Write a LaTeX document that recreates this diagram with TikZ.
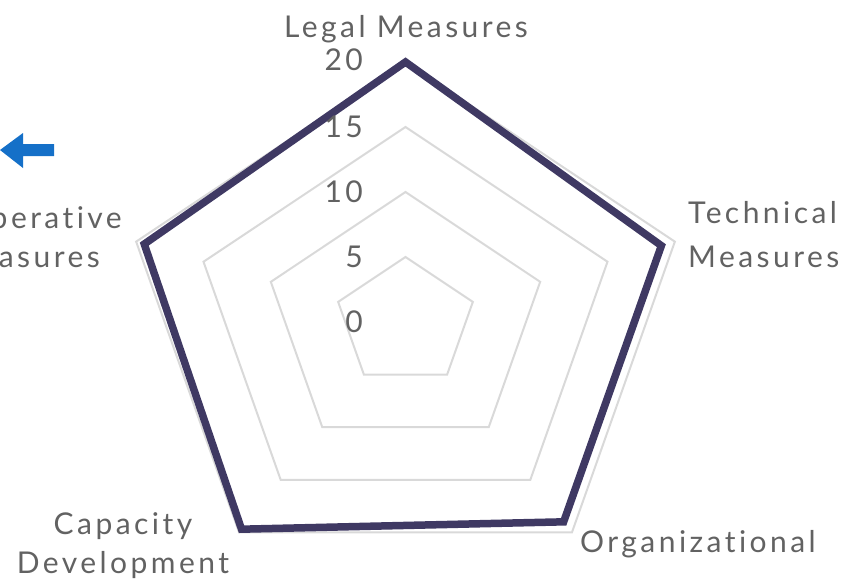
\documentclass[tikz,border=0pt]{standalone}
\usepackage{fontspec}
\setmainfont{Lato}[LetterSpace=11.5,Ligatures={NoCommon,NoRare}]
\definecolor{txtgray}{RGB}{98,98,98}
\definecolor{ringgray}{RGB}{217,217,217}
\definecolor{navy}{RGB}{63,57,99}
\definecolor{arrowblue}{RGB}{21,112,200}
\tikzset{
  ring/.style={draw=ringgray,line width=2pt,line join=miter},
  dataline/.style={draw=navy,line width=7.5pt,line join=miter},
  lbl/.style={text=txtgray,font=\fontsize{30}{44}\selectfont,inner sep=0pt},
  num/.style={text=txtgray,font=\fontsize{30}{34}\selectfont,inner sep=0pt,anchor=east}
}
\begin{document}
\begin{tikzpicture}[x=1pt,y=-1pt]
\useasboundingbox (0,0) rectangle (846,581);
\clip (0,0) rectangle (846,581);
\def\cx{405.5}\def\cy{322}\def\sx{14.16}\def\sy{13.0}
% grid rings
\foreach \r in {5,10,15,20}{
  \draw[ring] (\cx+\sx*\r*cos 90,\cy-\sy*\r*sin 90)
    -- (\cx+\sx*\r*cos 18,\cy-\sy*\r*sin 18)
    -- (\cx+\sx*\r*cos 54,\cy+\sy*\r*sin 54)
    -- (\cx-\sx*\r*cos 54,\cy+\sy*\r*sin 54)
    -- (\cx-\sx*\r*cos 18,\cy-\sy*\r*sin 18) -- cycle;
}
% data polygon
\coordinate (dL) at (\cx,\cy-\sy*20);
\coordinate (dT) at (\cx+\sx*19*cos 18,\cy-\sy*19*sin 18);
\coordinate (dO) at (\cx+\sx*19*cos 54,\cy+\sy*19*sin 54);
\coordinate (dC) at (\cx-\sx*19.7*cos 54,\cy+\sy*19.7*sin 54);
\coordinate (dP) at (\cx-\sx*19.4*cos 18,\cy-\sy*19.4*sin 18);
\draw[dataline] (dL) -- (dT) -- (dO) -- (dC) -- (dP) -- cycle;
% scale numbers
\node[num] (n20) at (363,60) {20};
\node[num] (n15) at (363,127) {15};
\node[num] (n10) at (363,192) {10};
\node[num] (n5) at (363,257) {5};
\node[num] (n0) at (363,322) {0};
% axis labels
\node[lbl,anchor=base] (legal) at (406,37) {Legal Measures};
\node[lbl,anchor=base west] (tech1) at (688,223) {Technical};
\node[lbl,anchor=base west] (tech2) at (688,267) {Measures};
\node[lbl,anchor=base] (org) at (698,552) {Organizational};
\node[lbl,anchor=base] (cap1) at (123,534) {Capacity};
\node[lbl,anchor=base] (cap2) at (123,573) {Development};
\node[lbl,anchor=base east] (op1) at (122,228) {Operative};
\node[lbl,anchor=base east] (op2) at (100,267) {Measures};
% blue arrow
\fill[arrowblue] (0,150) -- (23,133) -- (23,144) -- (54,144) -- (54,156) -- (23,156) -- (23,168) -- cycle;
\end{tikzpicture}
\end{document}
